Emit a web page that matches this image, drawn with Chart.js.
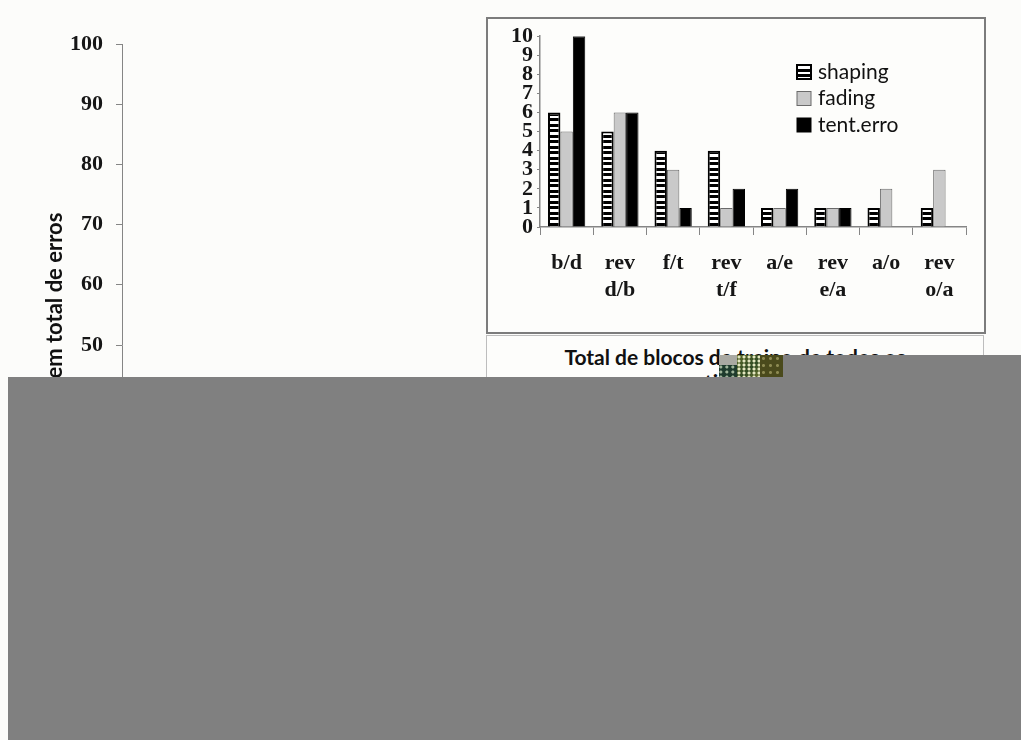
<!DOCTYPE html>
<html>
<head>
<meta charset="utf-8">
<script src="https://cdn.jsdelivr.net/npm/chart.js@4/dist/chart.umd.min.js"></script>
<style>
  html, body { margin: 0; padding: 0; background: #fcfcfa; width: 1021px; height: 740px; overflow: hidden; }
  #main { position: absolute; left: 0; top: 0; }
  #insetBox { position: absolute; left: 486px; top: 17px; width: 496px; height: 313px;
              border: 2px solid #7c7c7c; background: #fdfdfb; }
  #inset { display: block; }
  #titleBox { position: absolute; left: 486px; top: 335px; width: 498px; height: 140px;
              border: 1px solid #bdbdbd; background: #fdfdfb; text-align: center;
              font: bold 21px Lato, sans-serif; color: #111; line-height: 25px; padding-top: 8px; box-sizing: border-box; }
  .cover { position: absolute; background: #808080; }
  .noise { position: absolute; }
</style>
</head>
<body>
<canvas id="main" width="1021" height="740"></canvas>

<div id="insetBox"><canvas id="inset" width="496" height="313"></canvas></div>

<div id="titleBox">Total de blocos de treino de todos os<br>participantes</div>

<!-- damaged strip over the lower half of the figure -->
<div class="noise" style="left:719px;top:355px;width:18px;height:10px;background:#a9a9a2;"></div>
<div class="noise" style="left:719px;top:365px;width:18px;height:12px;background:
  radial-gradient(circle at 30% 40%, #9fb59a 0 1px, transparent 2px) 0 0/6px 5px,
  #1e3b2d;"></div>
<div class="noise" style="left:737px;top:355px;width:23px;height:22px;background:
  radial-gradient(circle at 40% 50%, #e4e7c0 0 1px, transparent 2px) 0 0/5px 4px,
  linear-gradient(135deg, #5c6b2a, #2f4a22 60%, #6a7430);"></div>
<div class="noise" style="left:760px;top:355px;width:23px;height:22px;background:
  radial-gradient(circle at 50% 50%, #8d8a52 0 1px, transparent 2px) 0 0/7px 7px,
  #4a4a1c;"></div>
<div class="cover" style="left:783px;top:355px;right:0;height:22px;"></div>
<div class="cover" style="left:8px;top:377px;right:0;bottom:0;"></div>

<script>
// ---- main figure: percentage axis ----
const mainTitle = 'Porcentagem total de erros';
const mainMin = 0;
const mainMax = 100;
const mainStep = 10;

// ---- inset: errors per discrimination pair ----
const pairLabels = [['b/d'], ['rev', 'd/b'], ['f/t'], ['rev', 't/f'], ['a/e'], ['rev', 'e/a'], ['a/o'], ['rev', 'o/a']];
const seriesNames = ['shaping', 'fading', 'tent.erro'];
const shapingValues = [6, 5, 4, 4, 1, 1, 1, 1];
const fadingValues = [5, 6, 3, 1, 1, 1, 2, 3];
const tentErroValues = [10, 6, 1, 2, 2, 1, null, null];
const insetMin = 0;
const insetMax = 10;

// horizontal stripe fill for the shaping bars
function stripePattern() {
  const c = document.createElement('canvas');
  c.width = 8; c.height = 11;
  const g = c.getContext('2d');
  g.fillStyle = '#ffffff';
  g.fillRect(0, 0, 8, 11);
  g.fillStyle = '#000000';
  g.fillRect(0, 0, 8, 3);
  g.fillRect(0, 6, 8, 3);
  return g.createPattern(c, 'repeat');
}

const serifTicks = { family: '"Liberation Serif", serif', size: 22, weight: 'bold', lineHeight: 1.2 };
const axisGray = '#858585';

new Chart(document.getElementById('main'), {
  type: 'bar',
  data: { labels: [], datasets: [] },
  options: {
    responsive: false,
    animation: false,
    layout: { padding: { left: 0, top: 44, right: 40, bottom: 94 } },
    plugins: { legend: { display: false }, tooltip: { enabled: false } },
    scales: {
      x: { display: false },
      y: {
        min: mainMin, max: mainMax,
        ticks: { stepSize: mainStep, font: serifTicks, color: '#161616', padding: 13 },
        grid: { drawOnChartArea: false, tickLength: 6, color: axisGray },
        border: { color: axisGray, width: 1 },
        title: {
          display: true, text: mainTitle, color: '#111',
          font: { family: 'Lato, sans-serif', size: 22, weight: 'bold' },
          padding: { top: 42, bottom: 0 }
        },
        afterFit(scale) { scale.width = 122; }
      }
    }
  }
});

// legend drawn inside the plot area, to the upper right
const insetLegend = {
  id: 'insetLegend',
  afterDraw(chart, args, opts) {
    const ctx = chart.ctx;
    ctx.save();
    chart.data.datasets.forEach((ds, i) => {
      const y = opts.y + i * opts.rowGap;
      const half = opts.box / 2;
      ctx.fillStyle = ds.backgroundColor;
      ctx.fillRect(opts.x, y - half, opts.box, opts.box);
      ctx.lineWidth = ds.borderWidth;
      ctx.strokeStyle = ds.borderColor;
      ctx.strokeRect(opts.x, y - half, opts.box, opts.box);
      ctx.fillStyle = opts.color;
      ctx.font = opts.font;
      ctx.textBaseline = 'middle';
      ctx.textAlign = 'left';
      ctx.fillText(ds.label, opts.textX, y);
    });
    ctx.restore();
  }
};

new Chart(document.getElementById('inset'), {
  type: 'bar',
  data: {
    labels: pairLabels,
    datasets: [
      { label: seriesNames[0], data: shapingValues, backgroundColor: stripePattern(), borderColor: '#000', borderWidth: 2 },
      { label: seriesNames[1], data: fadingValues, backgroundColor: '#c9c9c9', borderColor: '#6a6a6a', borderWidth: 1 },
      { label: seriesNames[2], data: tentErroValues, backgroundColor: '#000', borderColor: '#000', borderWidth: 1 }
    ]
  },
  options: {
    responsive: false,
    animation: false,
    datasets: { bar: { categoryPercentage: 0.7, barPercentage: 1.0 } },
    layout: { padding: { left: 0, top: 13, right: 18, bottom: 0 } },
    plugins: {
      legend: { display: false },
      tooltip: { enabled: false },
      insetLegend: { x: 309, y: 53, rowGap: 26.5, box: 14, textX: 330, color: '#111', font: '21px Lato, sans-serif' }
    },
    scales: {
      x: {
        offset: true,
        grid: { offset: true, drawOnChartArea: false, tickLength: 8, color: axisGray },
        border: { color: axisGray, width: 1.5 },
        ticks: { font: serifTicks, color: '#161616', padding: 15, maxRotation: 0, autoSkip: false,
                 font: { family: '"Liberation Serif", serif', size: 22, weight: 'bold', lineHeight: 1.23 } },
        afterFit(scale) { scale.height = 105; }
      },
      y: {
        min: insetMin, max: insetMax,
        ticks: { stepSize: 1, autoSkip: false, font: serifTicks, color: '#161616', padding: 4 },
        grid: { drawOnChartArea: false, tickLength: 3, color: axisGray },
        border: { color: axisGray, width: 1.5 },
        afterFit(scale) { scale.width = 52; }
      }
    }
  },
  plugins: [insetLegend]
});
</script>
</body>
</html>
